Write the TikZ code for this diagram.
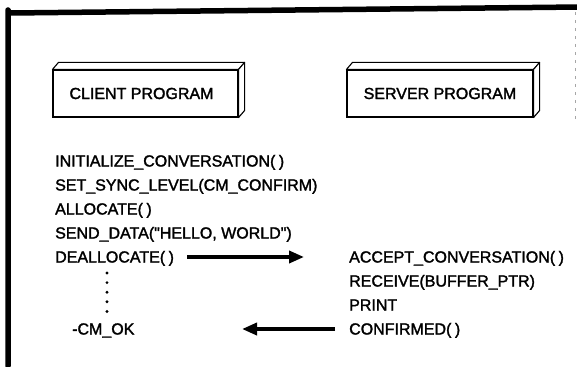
\documentclass[tikz,border=0pt]{standalone}
\usepackage{fontspec}
\setmainfont{Liberation Sans}[FakeBold=1.8]
\usetikzlibrary{arrows.meta,calc}

% 1 unit = 1pt, y grows downward
\tikzset{
  x=1pt, y=-1pt,
  frameline/.style={line width=#1, line cap=round, line join=round},
  prog/.style={draw, line width=1.1pt, minimum width=185pt, minimum height=47pt,
               inner sep=0pt, font=\fontsize{16}{18}\selectfont},
  face/.style={draw, line width=1.1pt, line join=round, fill=white},
  code/.style={anchor=base west, inner sep=0pt, font=\fontsize{16}{18}\selectfont},
  flow/.style={line width=3.6pt, -{Triangle[length=15pt,width=12pt]}},
  dotmark/.style={fill=black, draw=none},
}
\newcommand{\slab}[1]{%
  \draw[face] (#1.north west) -- ++(6,-7) -- ($(#1.north east)+(6,-7)$)
              -- (#1.north east) -- cycle;
  \draw[face] (#1.north east) -- ++(6,-7) -- ($(#1.south east)+(6,-7)$)
              -- (#1.south east) -- cycle;}
\newcommand{\emptyargs}{(\hspace{0.22em})}

\begin{document}
\begin{tikzpicture}
\useasboundingbox (0,0) rectangle (577,366);

% outer frame: heavy top rule and a thinner left rule
\draw[frameline=5.5pt] (8,366) -- (8,10) arc[start angle=180, end angle=90, radius=3] -- (580,7);
\draw[line width=1.8pt] (8,12) -- (8,366);
\draw[black!35, line width=0.8pt, dash pattern=on 3pt off 5pt] (575,12) -- (575,120);

% program blocks
\node[prog] (client) at (145.5,93.5) {\hspace*{-8pt}CLIENT PROGRAM};
\slab{client}
\node[prog, minimum width=186pt] (server) at (440,93.5) {SERVER PROGRAM};
\slab{server}

% client calls
\node[code] (c1) at (55,166.5) {INITIALIZE\_CONVERSATION\emptyargs};
\node[code] (c2) at (55,190.5) {SET\_SYNC\_LEVEL(CM\_CONFIRM)};
\node[code] (c3) at (55,214.5) {ALLOCATE\emptyargs};
\node[code] (c4) at (55,238.5) {SEND\_DATA(\textquotedbl HELLO, WORLD\textquotedbl)};
\node[code] (c5) at (55,262.5) {DEALLOCATE\emptyargs};
\node[code] (c6) at (72,334.5) {-CM\_OK};

% server calls
\node[code] (s1) at (349,262.5) {ACCEPT\_CONVERSATION\emptyargs};
\node[code] (s2) at (349,286.5) {RECEIVE(BUFFER\_PTR)};
\node[code] (s3) at (349,310.5) {PRINT};
\node[code] (s4) at (349,334.5) {CONFIRMED\emptyargs};

% continuation dots
\foreach \k in {0,...,4}
  \fill[dotmark] (107,{273+\k*9.6}) circle[radius=1.6];

% message flow
\coordinate (outA) at (187,257);
\coordinate (outB) at (304,257);
\coordinate (backA) at (335,329);
\coordinate (backB) at (242,329);
\draw[flow] (outA) -- (outB);
\draw[flow] (backA) -- (backB);
\end{tikzpicture}
\end{document}
